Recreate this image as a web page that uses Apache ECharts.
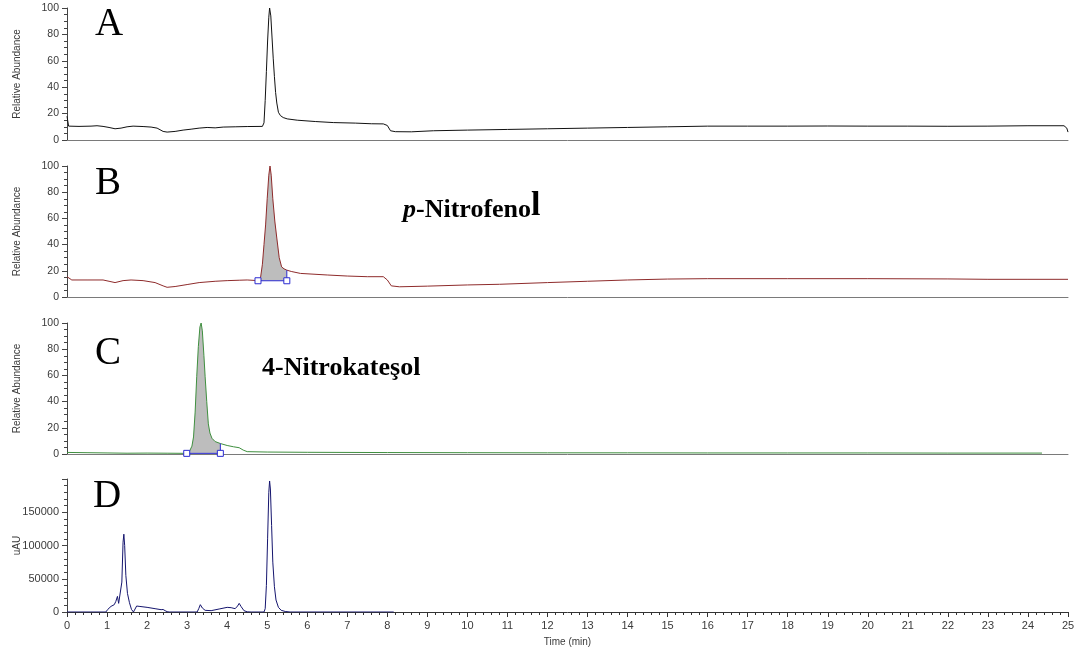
<!DOCTYPE html>
<html>
<head>
<meta charset="utf-8">
<title>Chromatograms</title>
<script src="https://cdn.jsdelivr.net/npm/echarts@6/dist/echarts.min.js"></script>
<style>
  html, body { margin: 0; padding: 0; background: #fff; }
  #chart { width: 1078px; height: 652px; }
</style>
</head>
<body>
<div id="chart"></div>
<script>
// Retention time axis (min)
const timeTicks = [0, 25, 1];

// Trace A: total ion current, relative abundance [time, %]
const traceA = [
  [0, 18], [0.04, 10.5], [0.3, 10.3], [0.6, 10.5], [0.75, 10.8], [0.9, 10.3], [1.05, 9.5],
  [1.2, 8.5], [1.35, 9], [1.5, 10], [1.65, 10.5], [1.9, 10.2], [2.1, 9.8], [2.25, 9],
  [2.4, 6.5], [2.5, 6], [2.7, 6.5], [2.9, 7.5], [3.1, 8.2], [3.3, 9], [3.5, 9.5],
  [3.7, 9.2], [3.9, 9.8], [4.2, 10], [4.5, 10.2], [4.88, 10.3], [4.92, 13], [4.95, 30],
  [4.98, 52], [5.01, 75], [5.04, 93], [5.06, 100], [5.09, 94], [5.12, 78], [5.15, 62],
  [5.18, 48], [5.21, 36], [5.24, 28], [5.28, 21], [5.33, 18.5], [5.4, 17], [5.5, 16],
  [5.75, 15], [6.2, 14], [6.65, 13.2], [7.2, 12.8], [7.6, 12.3], [7.9, 12.2], [8.0, 11],
  [8.08, 7], [8.2, 6.3], [8.6, 6.2], [9.15, 7], [10, 7.5], [11, 8], [12, 8.5], [13, 9],
  [14, 9.5], [15, 10], [16, 10.5], [17, 10.5], [18, 10.5], [19, 10.6], [20, 10.5],
  [21, 10.5], [22, 10.4], [23, 10.5], [24, 10.8], [24.9, 10.8], [24.97, 9], [25, 6]
];

// Trace B: p-nitrophenol ion chromatogram [time, %]
const traceB = [
  [0, 15.5], [0.12, 13], [0.5, 13], [0.9, 13], [1.05, 12], [1.2, 11], [1.4, 12.5],
  [1.6, 13], [1.9, 12.5], [2.2, 11], [2.4, 8.5], [2.5, 7.4], [2.7, 8], [3.0, 9.5],
  [3.3, 11], [3.7, 12], [4.0, 12.5], [4.3, 12.8], [4.5, 13], [4.77, 12.5], [4.83, 14],
  [4.88, 25], [4.92, 40], [4.96, 55], [5.0, 75], [5.04, 93], [5.07, 100], [5.1, 93],
  [5.14, 75], [5.19, 58], [5.24, 45], [5.3, 30], [5.36, 23], [5.42, 21.5], [5.49, 20.5],
  [5.6, 19.5], [5.83, 18], [6.5, 16.8], [7.0, 16], [7.5, 15.5], [7.9, 15.5], [8.0, 13],
  [8.1, 8.5], [8.3, 7.8], [9, 8.3], [10, 9.2], [10.8, 9.7], [12, 11], [13, 12], [14, 13],
  [15, 13.7], [16, 14], [18, 14], [20, 14], [22, 13.8], [23, 13.5], [24, 13.5], [25, 13.5]
];

// Trace C: 4-nitrocatechol ion chromatogram [time, %]
const traceC = [
  [0, 1.2], [0.5, 1], [1, 0.8], [1.5, 0.6], [2, 0.7], [2.5, 0.6], [2.99, 0.5], [3.05, 1.5],
  [3.12, 6], [3.16, 13], [3.2, 32], [3.24, 59], [3.28, 82], [3.32, 97], [3.35, 100],
  [3.38, 94], [3.42, 75], [3.45, 59], [3.49, 40], [3.53, 23], [3.57, 16], [3.62, 12],
  [3.7, 9.5], [3.83, 8], [4.0, 6.5], [4.16, 5.5], [4.3, 4.8], [4.4, 3], [4.5, 1.8],
  [5, 1.5], [6, 1.3], [8, 1.1], [10, 1], [12, 0.9], [14, 0.9], [16, 0.8], [18, 0.8],
  [20, 0.8], [22, 0.7], [24.35, 0.7]
];

// Trace D: UV detector signal [time, uAU]
const traceD = [
  [0, 0], [0.97, 0], [1.02, 4000], [1.1, 8500], [1.18, 11000], [1.22, 16000], [1.26, 23500],
  [1.29, 13000], [1.33, 10000], [1.37, 45000], [1.4, 105000], [1.42, 117000], [1.44, 100000],
  [1.47, 55000], [1.51, 28000], [1.56, 14000], [1.61, 4000], [1.66, 0], [1.7, 3000],
  [1.74, 9000], [1.8, 8500], [2.0, 7000], [2.2, 5000], [2.35, 3500], [2.4, 3800], [2.45, 2000],
  [2.5, 500], [2.55, 0], [3.25, 0], [3.29, 5000], [3.33, 11000], [3.38, 6000], [3.45, 2500],
  [3.6, 2000], [3.8, 4500], [4.0, 7000], [4.1, 6500], [4.2, 5000], [4.26, 9000], [4.3, 13000],
  [4.35, 8000], [4.42, 2000], [4.5, 300], [4.6, 0], [4.92, 0], [4.95, 5000], [4.98, 40000],
  [5.01, 110000], [5.04, 180000], [5.06, 197000], [5.08, 185000], [5.11, 130000],
  [5.14, 75000], [5.18, 38000], [5.22, 18000], [5.28, 7000], [5.35, 2500], [5.45, 800],
  [5.57, 0], [8.16, 0]
];

// Integration windows [start, end] and their baseline levels
const windowB = [4.77, 5.49];
const baseB = 12.4;
const windowC = [2.99, 3.83];
const baseC = 0.5;

// Y axis ranges [min, max, interval]
const abundanceTicks = [0, 100, 20];
const uvTicks = [0, 200000, 50000];

const panelLetters = ['A', 'B', 'C', 'D'];

const grids = [
  { left: 67, right: 10, top: 8, height: 132 },
  { left: 67, right: 10, top: 166, height: 131 },
  { left: 67, right: 10, top: 323, height: 131 },
  { left: 67, right: 10, top: 479, height: 133 }
].map(g => Object.assign({ containLabel: false, outerBoundsMode: 'none' }, g));

const labelFont = { fontFamily: 'Liberation Sans', fontSize: 11, color: '#3a3a3a' };

function xAxisFor(i) {
  const isLast = i === 3;
  return {
    type: 'value', gridIndex: i,
    min: timeTicks[0], max: timeTicks[1], interval: timeTicks[2],
    name: isLast ? 'Time (min)' : '',
    nameLocation: 'middle', nameGap: 25, nameMoveOverlap: false,
    nameTextStyle: { fontFamily: 'Liberation Sans', fontSize: 10, color: '#3a3a3a' },
    axisLine: { onZero: false, lineStyle: { color: isLast ? '#333' : '#7a7a7a', width: 1 } },
    axisTick: { show: isLast, length: 5, lineStyle: { color: '#333' } },
    minorTick: { show: isLast, splitNumber: 5, length: 3, lineStyle: { color: '#333' } },
    axisLabel: Object.assign({ show: isLast, margin: 8 }, labelFont),
    splitLine: { show: false }
  };
}

function yAxisFor(i) {
  const isLast = i === 3;
  const r = isLast ? uvTicks : abundanceTicks;
  return {
    type: 'value', gridIndex: i,
    min: r[0], max: r[1], interval: r[2],
    name: isLast ? 'uAU' : 'Relative Abundance',
    nameLocation: 'middle', nameGap: 45, nameMoveOverlap: false,
    nameTextStyle: { fontFamily: 'Liberation Sans', fontSize: 10, color: '#3a3a3a' },
    axisLine: { show: true, lineStyle: { color: '#444', width: 1 } },
    axisTick: { show: true, length: 5, lineStyle: { color: '#444' } },
    minorTick: { show: true, splitNumber: isLast ? 5 : 4, length: 3, lineStyle: { color: '#444' } },
    axisLabel: Object.assign({ margin: 8, showMaxLabel: !isLast, formatter: v => String(v) },
      labelFont, { fontSize: isLast ? 11 : 10.5 }),
    splitLine: { show: false }
  };
}

function traceSeries(i, data, color) {
  return {
    type: 'line', xAxisIndex: i, yAxisIndex: i, data: data,
    symbol: 'none', smooth: false, z: 3,
    lineStyle: { color: color, width: 1 }
  };
}

function valueAt(trace, t) {
  const p = trace.find(d => d[0] === t);
  return p ? p[1] : 0;
}

function integrationSeries(i, trace, win, base) {
  const inside = trace.filter(d => d[0] >= win[0] && d[0] <= win[1]);
  const blue = '#2b2bd0';
  return [
    {
      type: 'line', xAxisIndex: i, yAxisIndex: i, data: inside,
      symbol: 'none', z: 1,
      lineStyle: { width: 0 },
      areaStyle: { color: '#bdbdbd', opacity: 1, origin: base }
    },
    {
      type: 'line', xAxisIndex: i, yAxisIndex: i,
      data: [[win[1], base], [win[1], valueAt(trace, win[1])]],
      symbol: 'none', z: 4,
      lineStyle: { color: blue, width: 1 }
    },
    {
      type: 'line', xAxisIndex: i, yAxisIndex: i,
      data: [[win[0], base], [win[1], base]],
      symbol: 'rect', symbolSize: 6, showSymbol: true, z: 5,
      itemStyle: { color: '#ffffff', borderColor: blue, borderWidth: 1 },
      lineStyle: { color: blue, width: 1 }
    }
  ];
}

const letterPos = [[95, 25], [95, 184], [95, 354], [93, 497]];
const graphics = panelLetters.map((L, k) => ({
  type: 'text', z: 10,
  style: {
    text: L, x: letterPos[k][0], y: letterPos[k][1],
    font: '39px "Liberation Serif"', fill: '#000',
    verticalAlign: 'middle', align: 'left'
  }
}));

graphics.push({
  type: 'text', z: 10,
  style: {
    text: '{i|p}{b|-Nitrofeno}{l|l}',
    x: 403, y: 223, verticalAlign: 'bottom', align: 'left',
    fill: '#000',
    rich: {
      i: { font: 'italic bold 26px "Liberation Serif"', lineHeight: 26, verticalAlign: 'bottom' },
      b: { font: 'bold 26px "Liberation Serif"', lineHeight: 26, verticalAlign: 'bottom' },
      l: { font: 'bold 34px "Liberation Serif"', lineHeight: 31, verticalAlign: 'bottom' }
    }
  }
});

graphics.push({
  type: 'text', z: 10,
  style: {
    text: '4-Nitrokateşol', x: 262, y: 368,
    font: 'bold 26px "Liberation Serif"', fill: '#000',
    verticalAlign: 'middle', align: 'left'
  }
});

const chart = echarts.init(document.getElementById('chart'), null, { renderer: 'canvas' });
chart.setOption({
  animation: false,
  backgroundColor: '#ffffff',
  grid: grids,
  xAxis: [0, 1, 2, 3].map(xAxisFor),
  yAxis: [0, 1, 2, 3].map(yAxisFor),
  graphic: graphics,
  series: [
    traceSeries(0, traceA, '#111111'),
    ...integrationSeries(1, traceB, windowB, baseB),
    traceSeries(1, traceB, '#8e2b2b'),
    ...integrationSeries(2, traceC, windowC, baseC),
    traceSeries(2, traceC, '#3f8f3f'),
    traceSeries(3, traceD, '#15156e')
  ]
});
</script>
</body>
</html>
